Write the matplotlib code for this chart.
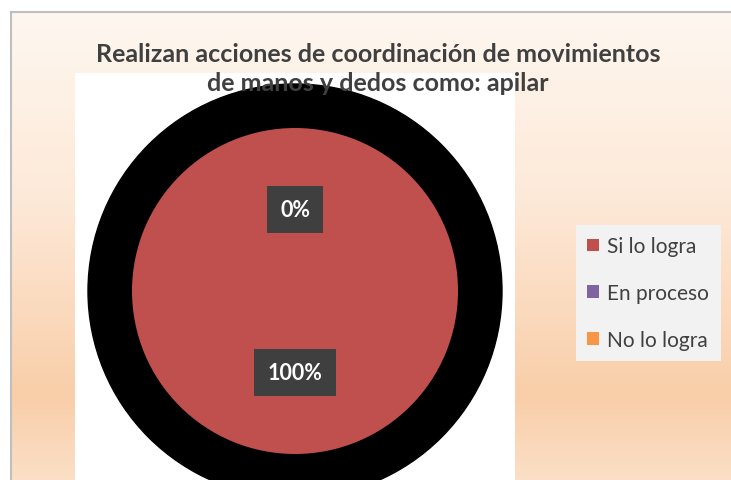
import numpy as np
import matplotlib.pyplot as plt
from matplotlib.colors import LinearSegmentedColormap
from matplotlib.patches import Circle

# data
categorias = ["Si lo logra", "En proceso", "No lo logra"]
valores = [100, 0, 0]
colores = ["#c0504d", "#8064a2", "#f79646"]
titulo = "Realizan acciones de coordinación de movimientos\nde manos y dedos como: apilar"

W, H = 731, 481
fig = plt.figure(figsize=(W / 100, H / 100), dpi=100, facecolor="white")

# gradient background of the chart area
bg = fig.add_axes([11 / W, 0, 1 - 11 / W, 1 - 13 / H])
cmap = LinearSegmentedColormap.from_list(
    "peach",
    [(0.0, "#fef7f0"), (0.4, "#fde9d8"), (0.82, "#f9cea9"), (1.0, "#fbdfc6")])
grad = np.linspace(0, 1, 256).reshape(-1, 1)
bg.imshow(grad, aspect="auto", cmap=cmap, extent=[0, 1, 0, 1], origin="upper")
bg.set_xlim(0, 1)
bg.set_ylim(0, 1)
bg.set_xticks([])
bg.set_yticks([])
for s in ["right", "bottom"]:
    bg.spines[s].set_visible(False)
for s in ["left", "top"]:
    bg.spines[s].set_color("#bfbfbf")
    bg.spines[s].set_linewidth(1.5)

# plot area (white), pie centre at (295, 292) px, radius 163 px
x0, x1, y0, y1 = 75, 515, 74, 481
cx, cy, r = 295, 292, 163
ax = fig.add_axes([x0 / W, 1 - y1 / H, (x1 - x0) / W, (y1 - y0) / H])

ax.add_patch(Circle((0, 0), 207 / r, color="black", zorder=0))
wedges, _, autotexts = ax.pie(
    valores, colors=colores, startangle=90, counterclock=False,
    autopct="%1.0f%%", pctdistance=0.5, radius=1,
    wedgeprops=dict(linewidth=0),
    textprops=dict(color="white", fontsize=15.5, fontweight="bold", family="Lato"))
for t in autotexts:
    t.set_bbox(dict(boxstyle="square,pad=0.62", facecolor="#3f3f3f", edgecolor="none"))

ax.set_aspect("auto")
ax.set_xlim((x0 - cx) / r, (x1 - cx) / r)
ax.set_ylim((cy - y1) / r, (cy - y0) / r)
ax.set_xticks([])
ax.set_yticks([])
ax.set_frame_on(True)  # pie() turns the frame (and the white patch) off
ax.set_facecolor("white")
for s in ax.spines.values():
    s.set_visible(False)

fig.text(378 / W, 1 - 69 / H, titulo, ha="center", va="center",
         fontsize=18, fontweight="bold", color="#404040", family="Lato",
         linespacing=1.3)

leg = fig.legend(wedges, categorias, loc="center left",
                 bbox_to_anchor=(576 / W, 1 - 294 / H),
                 frameon=True, fancybox=False, facecolor="#f2f2f2",
                 edgecolor="none", framealpha=1,
                 prop=dict(family="Lato", size=15),
                 handlelength=0.55, handleheight=0.55, handletextpad=0.4,
                 labelspacing=1.28, borderpad=0.55, borderaxespad=0)
for t in leg.get_texts():
    t.set_color("#404040")

fig.savefig("out.png", dpi=100)
